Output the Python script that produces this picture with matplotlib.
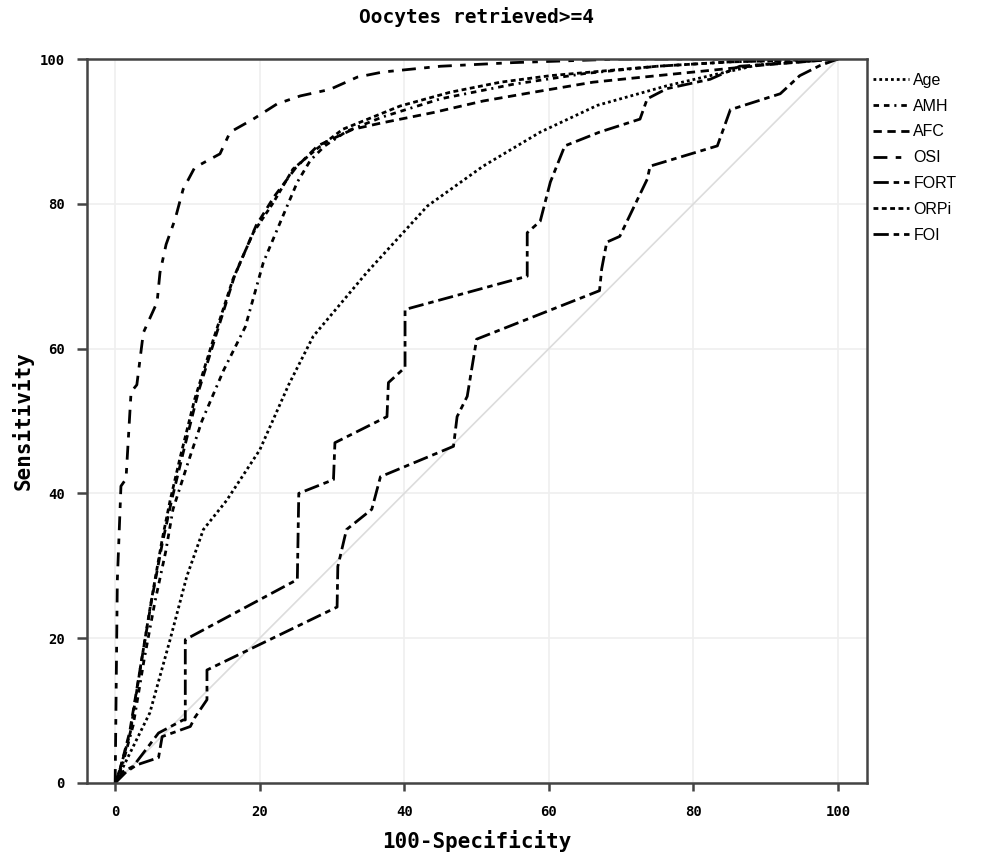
import matplotlib
matplotlib.use("Agg")
import matplotlib.pyplot as plt

plt.rcParams['lines.scale_dashes'] = False

# ROC curves (x = 100-specificity, y = sensitivity)
age_x = [0, 1.1, 4.8, 7.6, 9.9, 12.2, 15.4, 20, 24, 27.4, 34.8, 43.2, 50.9, 58.8, 66.7, 76.3, 82.3, 89, 100]
age_y = [0, 2.2, 9.7, 19.8, 28.5, 35, 39, 46, 55, 61.7, 70.5, 79.7, 85.2, 89.9, 93.6, 96.3, 97.7, 99.2, 100]

amh_x = [0, 1, 2.5, 4, 5.5, 7, 8, 10, 12, 15, 18, 20.5, 23.2, 25.2, 27, 29, 32, 37, 45, 55, 65, 75, 85, 100]
amh_y = [0, 2.5, 8, 17, 25, 32, 37.8, 44, 50, 57, 63, 71.9, 78.3, 83, 86, 88, 90, 92, 94.5, 96.5, 98, 99, 99.6, 100]

afc_x = [0, 0.7, 2, 3.5, 5, 6.5, 7.8, 9.5, 11.5, 14, 16.5, 19.5, 22, 25, 28, 32.9, 37, 44, 50.9, 57.8, 66.1, 73, 81, 90, 100]
afc_y = [0, 2, 7, 16, 25, 33, 39, 46, 54, 62, 70, 77, 81, 85, 88, 90.3, 91.2, 92.6, 94.2, 95.4, 96.8, 97.5, 98.3, 99.2, 100]

osi_x = [0, 0.3, 0.8, 1.5, 2.2, 3, 3.9, 5.8, 6.2, 7.05, 8.3, 9.4, 11, 14.5, 15.9, 19.1, 22.4, 25.6, 29.7, 33.5, 37, 45, 55, 70, 100]
osi_y = [0, 28, 41, 42, 54, 55, 62.2, 66.4, 70.5, 74.4, 77.9, 82, 85, 86.9, 89.9, 91.7, 93.8, 94.9, 95.8, 97.5, 98.2, 99, 99.5, 100, 100]

fort_x = [0, 1, 2.5, 6, 9.4, 9.7, 9.7, 25.2, 25.4, 30.2, 30.4, 37.6, 37.8, 40.1, 40.1, 57, 57, 58.8, 60.2, 62.2, 67,
          72.6, 73.6, 76.3, 82.3, 86.4, 100]
fort_y = [0, 1.5, 2.3, 6.9, 8.7, 8.7, 19.8, 28.1, 40, 41.9, 47, 50.6, 55.3, 57.4, 65.4, 70, 76, 77.6, 83, 88, 89.9,
          91.7, 94.5, 95.9, 97.2, 99, 100]

orpi_x = [0, 0.7, 2.1, 3.5, 4.8, 5.5, 6.5, 7.6, 9, 11, 13.5, 16.3, 19.1, 21.9, 24.6, 27.9, 31.5, 39.4, 46.3, 53.3,
          60.2, 67, 75, 85, 100]
orpi_y = [0, 2, 7, 16, 24, 28, 33.6, 39, 45, 53, 61, 69.6, 76, 80.2, 84.8, 87.6, 90.3, 93.5, 95.4, 96.8,
          97.7, 98.3, 99, 99.6, 100]

foi_x = [0, 1.5, 3, 6, 6.5, 10.4, 11, 12.7, 12.7, 30.7, 30.8, 32, 35.5, 36.7, 46.8, 47.3, 48.7, 50, 67, 67.3, 68,
         69.8, 73.6, 74, 83.3, 85.1, 92, 94.7, 97.5, 100]
foi_y = [0, 1.5, 2.5, 3.5, 6.4, 7.8, 9, 11.5, 15.6, 24.3, 29.9, 35, 37.8, 42.3, 46.5, 50.6, 53.4, 61.3, 68, 71, 74.7,
         75.5, 83.4, 85.2, 88, 93, 95.2, 97.7, 99.1, 100]

names = ["Age", "AMH", "AFC", "OSI", "FORT", "ORPi", "FOI"]
xs = [age_x, amh_x, afc_x, osi_x, fort_x, orpi_x, foi_x]
ys = [age_y, amh_y, afc_y, osi_y, fort_y, orpi_y, foi_y]
styles = [(0, (2, 2.2)), (0, (4, 3.5, 4, 3.5, 1.5, 3.5)), (0, (6, 4)), (0, (10, 6, 4, 6)),
          (0, (11, 3.5, 4, 3.5)), (0, (3.5, 2.5)), (0, (11, 3.5, 4, 3.5))]

fig = plt.figure(figsize=(9.86, 8.64), dpi=100)
ax = fig.add_axes([0.0882, 0.0938, 0.7911, 0.8379])

ax.set_xticks([0, 20, 40, 60, 80, 100])
ax.set_yticks([0, 20, 40, 60, 80, 100])
ax.grid(True, color='#efefef', linewidth=1.2)
ax.set_axisbelow(True)

ax.plot([0, 100], [0, 100], color='#dcdcdc', linewidth=1.2)

for x, y, name, ls in zip(xs, ys, names, styles):
    ax.plot(x, y, color='black', linewidth=2.0, linestyle=ls, label=name)

ax.set_xlim(-3.9, 104)
ax.set_ylim(0, 100)

for s in ax.spines.values():
    s.set_color('#444444')
    s.set_linewidth(1.8)

ax.tick_params(axis='x', direction='out', length=6, width=1.8, color='#444444', pad=10)
ax.tick_params(axis='y', direction='out', length=7, width=1.8, color='#444444', pad=9)
for lab in ax.get_xticklabels() + ax.get_yticklabels():
    lab.set_family('DejaVu Sans Mono')
    lab.set_fontweight('bold')
    lab.set_fontsize(10)

ax.set_xlabel("100-Specificity", family='DejaVu Sans Mono', fontweight='bold', fontsize=15, labelpad=8)
ax.set_ylabel("Sensitivity", family='DejaVu Sans Mono', fontweight='bold', fontsize=15, labelpad=4)
ax.set_title("Oocytes retrieved>=4", family='DejaVu Sans Mono', fontweight='bold', fontsize=14, pad=26)

leg = ax.legend(loc='upper left', bbox_to_anchor=(1.0, 0.99), frameon=False,
                prop={'family': 'Liberation Sans', 'size': 11.5}, handlelength=2.2,
                handletextpad=0.3, labelspacing=0.68, borderaxespad=0.0)

fig.savefig("out.png", dpi=100)
